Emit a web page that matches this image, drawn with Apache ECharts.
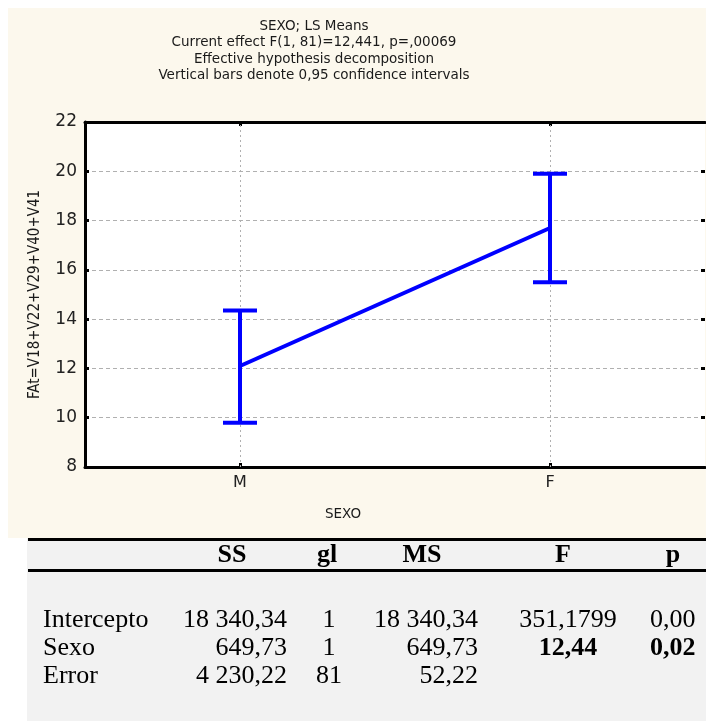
<!DOCTYPE html>
<html>
<head>
<meta charset="utf-8">
<script src="https://cdn.jsdelivr.net/npm/echarts@6/dist/echarts.min.js"></script>
<style>
  html, body { margin: 0; padding: 0; background: #fff; }
  #chart { width: 706px; height: 721px; }
</style>
</head>
<body>
<div id="chart"></div>
<script>
// chart data
const categories = ["M", "F"];
const lsMeans = [12.1, 17.7];
const ciLower = [9.8, 15.5];
const ciUpper = [14.35, 19.9];
const yMin = 8, yMax = 22, yStep = 2;
const titleLines = [
  "SEXO; LS Means",
  "Current effect F(1, 81)=12,441, p=,00069",
  "Effective hypothesis decomposition",
  "Vertical bars denote 0,95 confidence intervals",
];
const yAxisName = "FAt=V18+V22+V29+V40+V41";
const xAxisName = "SEXO";

// ANOVA table under the chart
const tableHeader = ["", "SS", "gl", "MS", "F", "p"];
const tableRows = [
  ["Intercepto", "18 340,34", "1", "18 340,34", "351,1799", "0,00"],
  ["Sexo", "649,73", "1", "649,73", "12,44", "0,02"],
  ["Error", "4 230,22", "81", "52,22", "", ""],
];
const boldCells = ["1-4", "1-5"];

const chartFont = "DejaVu Sans";
const tableFont = "Liberation Serif";
const blue = "#0000ff";

// table layout: x position + alignment of each column
const colPos = [
  { x: 43, align: "left" },
  { x: 287, align: "right" },
  { x: 329, align: "center" },
  { x: 478, align: "right" },
  { x: 568, align: "center" },
  { x: 650, align: "left" },
];
const headerPos = [0, 232, 327, 422, 563, 673];
const rowY = [620, 648, 676];

const graphics = [
  // cream background of the statistics window
  { type: "rect", z: -10, shape: { x: 8, y: 8, width: 698, height: 530 }, style: { fill: "#fcf8ed" } },
  // grey table background
  { type: "rect", z: -10, shape: { x: 27, y: 538, width: 679, height: 183 }, style: { fill: "#f2f2f2" } },
  { type: "rect", z: 5, shape: { x: 28, y: 538, width: 678, height: 3 }, style: { fill: "#000" } },
  { type: "rect", z: 5, shape: { x: 28, y: 569, width: 678, height: 3 }, style: { fill: "#000" } },
  {
    type: "text", z: 5, x: 314, y: 18,
    style: {
      text: titleLines.join("\n"), font: "13.5px '" + chartFont + "'",
      fill: "#1a1a1a", align: "center", verticalAlign: "top", lineHeight: 16.5,
    },
  },
  {
    type: "text", z: 5, x: 343, y: 514,
    style: { text: xAxisName, font: "13.5px '" + chartFont + "'", fill: "#1a1a1a", align: "center", verticalAlign: "middle" },
  },
];

tableHeader.forEach(function (h, i) {
  if (!h) return;
  graphics.push({
    type: "text", z: 5, x: headerPos[i], y: 555,
    style: { text: h, font: "bold 26px '" + tableFont + "'", fill: "#000", align: "center", verticalAlign: "middle" },
  });
});
tableRows.forEach(function (row, r) {
  row.forEach(function (cell, c) {
    if (!cell) return;
    const bold = boldCells.indexOf(r + "-" + c) >= 0;
    graphics.push({
      type: "text", z: 5, x: colPos[c].x, y: rowY[r],
      style: {
        text: cell, font: (bold ? "bold " : "") + "26px '" + tableFont + "'",
        fill: "#000", align: colPos[c].align, verticalAlign: "middle",
      },
    });
  });
});

const tickStyle = { show: true, inside: true, length: 4, alignWithLabel: true, lineStyle: { color: "#000", width: 3 } };
const frameLine = { show: true, onZero: false, lineStyle: { color: "#000", width: 3 } };

const option = {
  backgroundColor: "#fff",
  animation: false,
  // plot runs off the right edge, so no right frame line
  grid: {
    show: true, left: 85, right: 1, top: 122, bottom: 254,
    borderWidth: 0, backgroundColor: "#fff",
  },
  xAxis: [
    {
      type: "category", data: categories, position: "bottom",
      axisLine: frameLine,
      axisTick: tickStyle,
      axisLabel: { fontFamily: chartFont, fontSize: 16, color: "#222", margin: 8 },
      splitLine: { show: false },
    },
    {
      type: "category", data: categories, position: "top",
      axisLine: frameLine, axisTick: tickStyle, axisLabel: { show: false }, splitLine: { show: false },
    },
  ],
  yAxis: [
    {
      type: "value", min: yMin, max: yMax, interval: yStep,
      name: yAxisName, nameLocation: "middle", nameGap: 42, nameRotate: 90,
      nameTextStyle: { fontFamily: "DejaVu Sans Condensed", fontSize: 15, color: "#1a1a1a" },
      axisLine: frameLine,
      axisTick: tickStyle,
      axisLabel: { fontFamily: chartFont, fontSize: 17, color: "#222", margin: 8 },
      splitLine: { show: true, lineStyle: { color: "#b0b0b0", width: 1, type: [4, 3] } },
    },
    {
      type: "value", min: yMin, max: yMax, interval: yStep, position: "right",
      axisLine: { show: false }, axisTick: tickStyle, axisLabel: { show: false }, splitLine: { show: false },
    },
  ],
  series: [
    {
      type: "line",
      data: lsMeans,
      symbol: "none",
      lineStyle: { color: blue, width: 4 },
      z: 4,
      markLine: {
        silent: true,
        symbol: ["none", "none"],
        label: { show: false },
        lineStyle: { color: "#b0b0b0", width: 1, type: [2, 3] },
        data: categories.map(function (c) { return { xAxis: c }; }),
      },
    },
    {
      type: "custom",
      z: 5,
      data: categories.map(function (c, i) { return [i, ciLower[i], ciUpper[i]]; }),
      encode: { x: 0, y: [1, 2] },
      renderItem: function (params, api) {
        const lo = api.coord([api.value(0), api.value(1)]);
        const hi = api.coord([api.value(0), api.value(2)]);
        const w = 17;
        const st = { stroke: blue, lineWidth: 4 };
        return {
          type: "group",
          children: [
            { type: "line", shape: { x1: lo[0], y1: lo[1], x2: hi[0], y2: hi[1] }, style: st },
            { type: "line", shape: { x1: lo[0] - w, y1: lo[1], x2: lo[0] + w, y2: lo[1] }, style: st },
            { type: "line", shape: { x1: hi[0] - w, y1: hi[1], x2: hi[0] + w, y2: hi[1] }, style: st },
          ],
        };
      },
    },
  ],
  graphic: graphics,
};

const myChart = echarts.init(document.getElementById("chart"));
myChart.setOption(option);
</script>
</body>
</html>
